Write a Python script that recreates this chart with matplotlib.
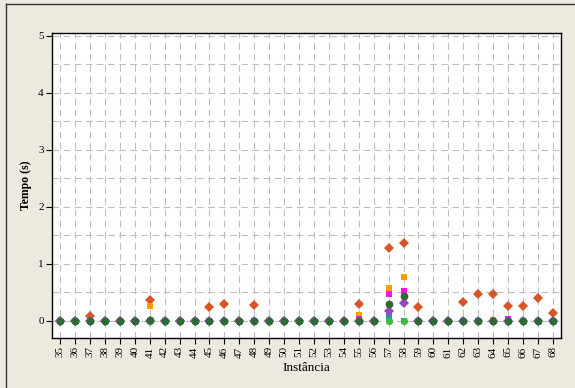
#!/usr/bin/env python3
"""Tempo (s) por instância, vários métodos sobrepostos."""

import matplotlib
matplotlib.use("Agg")
import matplotlib.pyplot as plt
import matplotlib.lines as mlines
import numpy as np

instancias = [str(i) for i in range(35, 69)]

# valores (s), uma lista por série
t_vermelho = [0, 0, 0.09, 0, 0, 0, 0.37, 0, 0, 0, 0.25, 0.30, 0, 0.27, 0, 0, 0, 0, 0, 0,
              0.30, 0, 1.28, 1.37, 0.25, 0, 0, 0.33, 0.47, 0.47, 0.26, 0.26, 0.40, 0.14]
t_laranja = [0, 0, 0, 0, 0, 0, 0.26, 0, 0, 0, 0, 0, 0, 0, 0, 0, 0, 0, 0, 0,
             0.105, 0, 0.58, 0.77, 0, 0, 0, 0, 0, 0.02, 0, 0, 0, 0]
t_magenta = [0, 0, 0, 0, 0, 0, 0, 0, 0, 0, 0, 0, 0, 0, 0, 0, 0, 0, 0, 0,
             0.04, 0, 0.48, 0.53, 0, 0, 0, 0, 0, 0, 0.03, 0, 0, 0]
t_marrom = [0, 0, 0, 0, 0, 0, 0, 0, 0, 0, 0, 0, 0, 0, 0, 0, 0, 0, 0, 0,
            0, 0, 0.10, 0, 0, 0, 0, 0, 0, 0, 0, 0, 0, 0]
t_azul = [0, 0, 0, 0, 0, 0, 0, 0, 0, 0, 0, 0, 0, 0, 0, 0, 0, 0, 0, 0,
          0, 0, 0.06, 0, 0, 0, 0, 0, 0, 0, 0, 0, 0, 0]
t_roxo = [0, 0, 0, 0, 0, 0, 0, 0, 0, 0, 0, 0, 0, 0, 0, 0, 0, 0, 0, 0,
          0, 0, 0.18, 0.31, 0, 0, 0, 0, 0, 0, 0, 0, 0, 0]
t_verde = [0] * 34
t_verde_esc = [0, 0, 0, 0, 0, 0, 0.02, 0, 0, 0, 0, 0, 0, 0, 0, 0, 0, 0, 0, 0,
               0, 0, 0.30, 0.43, 0, 0, 0, 0, 0, 0, 0, 0, 0, 0]

BG = "#EDE9DF"
GRID = "#BEBEBE"

series = [
    (t_vermelho, "D", "#D8552A", 5.0),
    (t_laranja, "s", "#FF9A00", 4.8),
    (t_magenta, "s", "#FF10E8", 4.8),
    (t_marrom, "s", "#A8703C", 4.8),
    (t_azul, "s", "#2A8FB8", 4.8),
    (t_roxo, "D", "#9A45C8", 4.8),
    (t_verde, "o", "#3DBB3D", 5.2),
    (t_verde_esc, "o", "#2E6A34", 5.6),
]


def main() -> None:
    plt.rcParams["font.family"] = ["Liberation Serif", "DejaVu Serif"]
    fig = plt.figure(figsize=(5.75, 3.88), dpi=100, facecolor=BG)
    ax = fig.add_axes([0.0904, 0.1289, 0.8853, 0.7861])
    ax.set_facecolor("white")

    x = np.arange(len(instancias))
    for vals, marker, color, ms in series:
        ax.plot(x, vals, linestyle="none", marker=marker, color=color,
                markersize=ms, markeredgewidth=0, zorder=3, clip_on=False)

    ax.set_xlim(-0.55, len(instancias) - 0.45)
    ax.set_ylim(-0.3, 5.05)
    ax.set_xticks(x)
    ax.set_xticklabels(instancias, rotation=90, fontsize=8)
    ax.set_yticks(range(6))
    ax.set_yticks(np.arange(0.5, 5, 1), minor=True)
    ax.tick_params(axis="y", which="minor", length=0)
    ax.tick_params(axis="both", which="major", labelsize=8, length=4, width=0.8,
                   direction="out", pad=2)

    ax.grid(True, which="both", axis="y", color=GRID, linestyle=(0, (6, 4)), linewidth=0.8)
    ax.grid(True, which="major", axis="x", color=GRID, linestyle=(0, (6, 4)), linewidth=0.8)
    ax.set_axisbelow(True)
    for sp in ax.spines.values():
        sp.set_linewidth(1.0)
        sp.set_color("black")

    ax.set_ylabel("Tempo (s)", fontsize=8.5, fontweight="bold", labelpad=4)
    ax.set_xlabel("Instância", fontsize=9.5, labelpad=3)

    # moldura da figura (lados esquerdo e superior)
    fig.add_artist(mlines.Line2D([0.011, 0.011], [0, 0.99], transform=fig.transFigure,
                                 color="#333333", linewidth=1))
    fig.add_artist(mlines.Line2D([0.011, 1], [0.99, 0.99], transform=fig.transFigure,
                                 color="#333333", linewidth=1))

    fig.savefig("out.png", dpi=100, facecolor=BG)


if __name__ == "__main__":
    main()
